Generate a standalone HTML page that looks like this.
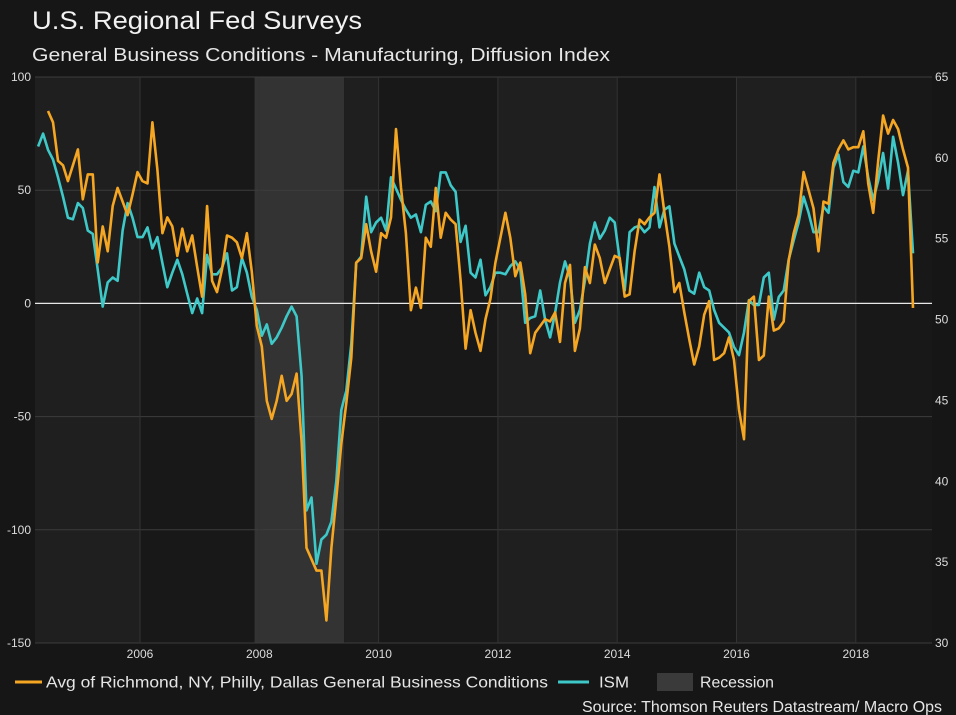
<!DOCTYPE html>
<html><head><meta charset="utf-8"><style>
html,body{margin:0;padding:0;background:#161616;}
svg{display:block;}
text{font-family:"Liberation Sans Narrow","Liberation Sans",sans-serif;}
</style></head><body>
<svg id="chart" width="956" height="715" viewBox="0 0 956 715">
<rect x="0" y="0" width="956" height="715" fill="#161616"/>
<text x="32" y="29" font-size="25" fill="#f2f2f2" style="font-family:'Liberation Sans',sans-serif" textLength="330" lengthAdjust="spacingAndGlyphs">U.S. Regional Fed Surveys</text>
<text x="32" y="61" font-size="18.5" fill="#e6e6e6" style="font-family:'Liberation Sans',sans-serif" textLength="578" lengthAdjust="spacingAndGlyphs">General Business Conditions - Manufacturing, Diffusion Index</text>
<g id="bands"></g>
<g id="grid"></g>
<g id="axes"></g>
<g id="series"></g>
<g>
<line x1="15" y1="682" x2="42" y2="682" stroke="#f5a623" stroke-width="3"/>
<text x="46" y="687.5" font-size="15.5" fill="#e6e6e6" textLength="502" lengthAdjust="spacingAndGlyphs">Avg of Richmond, NY, Philly, Dallas General Business Conditions</text>
<line x1="558" y1="682" x2="589" y2="682" stroke="#3ec8c8" stroke-width="3"/>
<text x="599" y="687.5" font-size="15.5" fill="#e6e6e6" textLength="30" lengthAdjust="spacingAndGlyphs">ISM</text>
<rect x="657" y="673" width="36" height="18" fill="#3a3a3a"/>
<text x="700" y="687.5" font-size="15.5" fill="#e6e6e6" textLength="74" lengthAdjust="spacingAndGlyphs">Recession</text>
</g>
<text x="942" y="712" font-size="15.5" fill="#e6e6e6" text-anchor="end" textLength="360" lengthAdjust="spacingAndGlyphs">Source: Thomson Reuters Datastream/ Macro Ops</text>
</svg>
<script>
const regional = [null,null,85,80,63,61,54,61,68,46,57,57,18,34,23,43,51,45,39,48,58,54,53,80,59,31,38,34,21,33,23,30,16,3,43,10,5,15,30,29,27,20,31,14,-10,-19,-43,-51,-43,-32,-43,-40,-31,-61,-108,-113,-118,-118,-140,-108,-86,-62,-44,-24,18,20,35,23,14,31,29,38,77,51,31,-3,7,-2,29,25,51,29,40,37,35,10,-20,-3,-13,-21,-7,2,18,29,40,29,12,18,4,-22,-13,-10,-7,-8,-4,-17,9,17,-21,-11,16,9,26,20,9,15,21,20,3,4,23,37,35,38,40,57,40,25,5,9,-4,-16,-27,-19,-5,1,-25,-24,-22,-15,-25,-47,-60,1,3,-25,-23,3,-12,-11,-8,19,31,39,58,50,42,23,45,44,62,68,72,68,69,69,76,53,40,63,83,75,81,77,68,60,-2];
const ism = [60.7,61.5,60.5,59.9,58.8,57.6,56.3,56.2,57.2,56.9,55.5,55.3,53.1,50.8,52.3,52.6,52.4,55.5,57.2,56.3,55.1,55.1,55.7,54.4,55.1,53.5,52.0,52.9,53.7,52.8,51.6,50.4,51.3,50.4,54.0,52.8,52.8,53.2,54.1,51.8,52.0,53.8,52.9,51.4,50.6,49.0,49.7,48.5,48.9,49.5,50.2,50.8,50.2,46.5,38.2,39.0,34.9,36.4,36.7,37.5,40.0,44.4,45.6,48.5,53.5,53.9,57.6,55.4,56.0,56.3,55.5,58.8,58.1,57.4,56.8,56.3,56.5,55.4,57.1,57.3,56.7,59.1,59.1,58.3,57.9,54.8,55.8,52.9,52.6,53.7,51.5,52.0,52.9,52.9,52.8,53.3,53.6,53.1,49.8,50.1,50.2,51.8,50.0,48.9,50.4,52.3,53.6,52.6,49.8,50.6,52.4,54.7,56.0,55.0,55.5,56.3,56.0,53.7,51.8,55.4,55.7,55.8,55.4,55.7,58.2,55.7,56.8,57.0,54.7,53.9,53.1,51.8,51.6,52.9,52.0,51.8,50.6,49.8,49.5,49.2,48.3,47.8,49.2,51.2,50.9,50.9,52.6,52.9,50.0,51.4,51.8,53.7,54.9,56.0,57.6,56.6,55.4,55.4,57.0,56.6,59.4,60.2,58.5,58.2,59.2,59.1,60.7,58.8,57.4,58.6,60.3,58.1,61.3,59.7,57.7,59.2,54.1];
const startYear = 2004;
const startMonth = 4;
const leftTicks = [100,50,0,-50,-100,-150];
const rightTicks = [65,60,55,50,45,40,35,30];
const yearTicks = [2006,2008,2010,2012,2014,2016,2018];
const recession = [2007.92, 2009.42];

const NS = "http://www.w3.org/2000/svg";
const X0 = 35, X1 = 932, Y0 = 77, Y1 = 643;
const xScale = t => 140 + (t - 2006) * 59.65;
const yLeft = v => Y0 + (100 - v) / 250 * (Y1 - Y0);
const yRight = v => Y0 + (65 - v) / 35 * (Y1 - Y0);
const tOf = i => startYear + (startMonth - 1 + i + 0.5) / 12;
function mk(tag, attrs, parent) {
  const e = document.createElementNS(NS, tag);
  for (const k in attrs) e.setAttribute(k, attrs[k]);
  parent.appendChild(e);
  return e;
}
const bands = document.getElementById('bands');
const bandEdges = [2004, 2006, 2008, 2010, 2012, 2014, 2016, 2018, 2020];
for (let b = 0; b < bandEdges.length - 1; b++) {
  const a = Math.max(X0, xScale(bandEdges[b])), z = Math.min(X1, xScale(bandEdges[b + 1]));
  const r = mk('rect', {x: a, y: Y0, width: z - a, height: Y1 - Y0, fill: b % 2 === 0 ? '#1f1f1f' : '#181818'}, bands);
  
  
}
const rec = mk('rect', {x: xScale(recession[0]), y: Y0, width: xScale(recession[1]) - xScale(recession[0]), height: Y1 - Y0, fill: '#333333'}, bands);



const grid = document.getElementById('grid');
const axes = document.getElementById('axes');
leftTicks.forEach(v => {
  const y = yLeft(v);
  if (v !== 0) {
    const g = mk('line', {x1: X0, x2: X1, y1: y, y2: y, stroke: '#3c3c3c', 'stroke-width': 1}, grid);
    
    
  }
  const t = mk('text', {x: 31, y: y + 4, 'font-size': 12, fill: '#dcdcdc', 'text-anchor': 'end'}, axes);
  t.textContent = v;
  
  
});
rightTicks.forEach(v => {
  const t = mk('text', {x: 935, y: yRight(v) + 4, 'font-size': 12, fill: '#dcdcdc'}, axes);
  t.textContent = v;
  
  
});
yearTicks.forEach(yr => {
  const x = xScale(yr);
  const g = mk('line', {x1: x, x2: x, y1: Y0, y2: Y1, stroke: '#333333', 'stroke-width': 1}, grid);
  
  
  const t = mk('text', {x: x, y: 658, 'font-size': 12, fill: '#dcdcdc', 'text-anchor': 'middle'}, axes);
  t.textContent = yr;
  
  
});
const zero = mk('line', {x1: X0, x2: X1, y1: yLeft(0), y2: yLeft(0), stroke: '#e8e8e8', 'stroke-width': 1.2}, grid);



const series = document.getElementById('series');
function path(arr, yf, color, name) {
  let d = '', pen = false;
  arr.forEach((v, i) => {
    if (v === null) { pen = false; return; }
    d += (pen ? 'L' : 'M') + xScale(tOf(i)).toFixed(1) + ',' + yf(v).toFixed(1);
    pen = true;
  });
  const p = mk('path', {d: d, fill: 'none', stroke: color, 'stroke-width': 2.6, 'stroke-linejoin': 'round'}, series);
  
  
}
path(ism, yRight, '#3ec8c8', 'ism-line');
path(regional, yLeft, '#f5a623', 'regional-fed-line');
</script>
</body></html>
